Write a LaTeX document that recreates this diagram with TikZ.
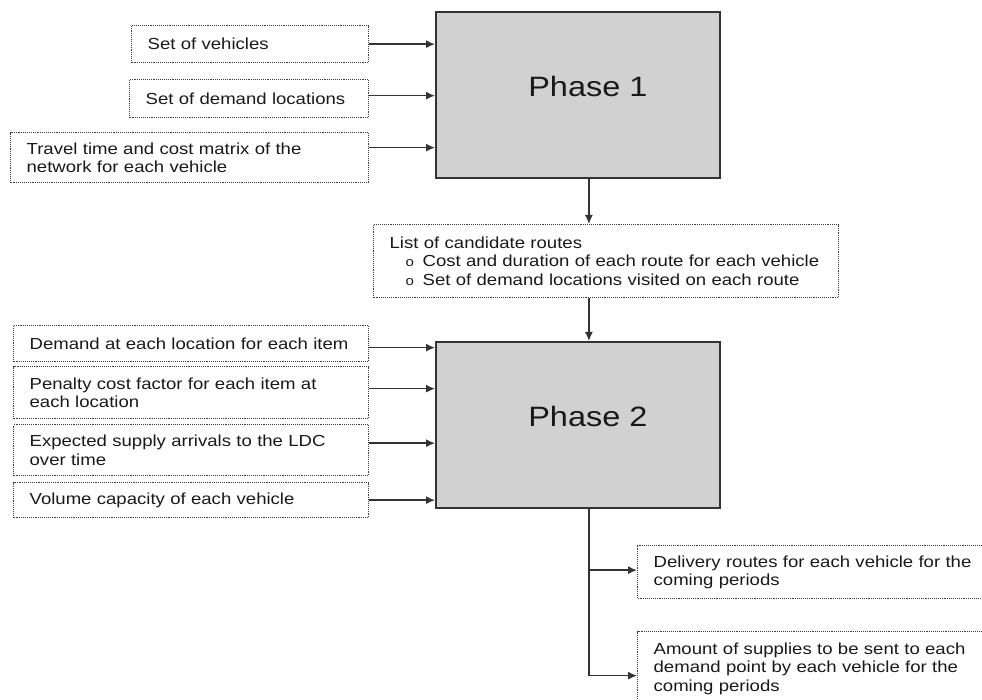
\documentclass[tikz,border=0pt]{standalone}
\usepackage{fontspec}
\setmainfont{Liberation Sans}[FakeStretch=1.16]
\usetikzlibrary{arrows.meta,positioning}
\tikzset{
  >={Latex[length=9pt,width=8pt]},
  flow/.style={font=\fontsize{16}{18.3}\selectfont, line width=1.3pt},
  databox/.style={
    rectangle, draw=black!75, dash pattern=on 1pt off 0.9pt, line width=1.3pt,
    anchor=north west, align=left, inner xsep=16pt, inner ysep=0pt, text=black!90
  },
  phase/.style={
    rectangle, draw=black!80, line width=1.8pt, fill=black!18,
    anchor=north west, minimum width=284pt, minimum height=166pt
  },
  phasetext/.style={font=\fontsize{28}{32}\selectfont, text=black!90},
  arrow/.style={->, draw=black!80, line width=1.4pt}
}
\newcommand{\routeitem}[1]{\hspace*{16pt}\makebox[17pt][l]{\fontsize{13}{13}\selectfont o}#1}

\begin{document}
\begin{tikzpicture}[flow, x=1pt, y=-1pt]
\useasboundingbox (0,0) rectangle (982,700);

% 1 : Phase 1 et ses entrées
\node[phase, label={[phasetext, xshift=10pt, yshift=8pt]center:Phase 1}] (ph1) at (435,11) {};
\node[databox, text width=205pt, minimum height=37pt] (veh) at (131,25) {Set of vehicles};
\node[databox, text width=207pt, minimum height=38pt] (dem) at (129,79) {Set of demand locations};
\node[databox, text width=326pt, minimum height=50pt] (travel) at (10,132) {Travel time and cost matrix of the\\network for each vehicle};
\draw[arrow] (veh.east) -- (veh.east -| ph1.west);
\draw[arrow] ([yshift=3pt]dem.east) -- ([yshift=3pt]dem.east -| ph1.west);
\draw[arrow] ([yshift=10pt]travel.east) -- ([yshift=10pt]travel.east -| ph1.west);

% 2 : Routes candidates
\node[databox, text width=433pt, minimum height=73pt] (cand) at (373,224) {List of candidate routes\\
\routeitem{Cost and duration of each route for each vehicle}\\
\routeitem{Set of demand locations visited on each route}};
\draw[arrow] ([xshift=11pt]ph1.south) -- ([xshift=11pt]ph1.south |- cand.north);

% 3 : Phase 2 et ses entrées
\node[phase, label={[phasetext, xshift=10pt, yshift=8pt]center:Phase 2}] (ph2) at (435,341) {};
\draw[arrow] ([xshift=11pt]ph2.north |- cand.south) -- ([xshift=11pt]ph2.north);
\node[databox, text width=323pt, minimum height=36pt] (dmd) at (13,325) {Demand at each location for each item};
\node[databox, text width=323pt, minimum height=52pt] (pen) at (13,366) {Penalty cost factor for each item at\\each location};
\node[databox, text width=323pt, minimum height=51pt] (sup) at (13,424) {Expected supply arrivals to the LDC\\over time};
\node[databox, text width=323pt, minimum height=35pt] (volcap) at (13,482) {Volume capacity of each vehicle};
\draw[arrow] ([yshift=-4pt]dmd.east) -- ([yshift=-4pt]dmd.east -| ph2.west);
\draw[arrow] ([yshift=4pt]pen.east) -- ([yshift=4pt]pen.east -| ph2.west);
\draw[arrow] ([yshift=7pt]sup.east) -- ([yshift=7pt]sup.east -| ph2.west);
\draw[arrow] (volcap.east) -- (volcap.east -| ph2.west);

% 4 : Sorties
\node[databox, text width=331pt, minimum height=53pt] (deliv) at (637,545) {Delivery routes for each vehicle for the\\coming periods};
\node[databox, text width=331pt, minimum height=74pt] (amount) at (637,631) {Amount of supplies to be sent to each\\demand point by each vehicle for the\\coming periods};
\coordinate (split) at ([xshift=11pt]ph2.south);
\draw[arrow] (split) |- ([yshift=2pt]deliv.west);
\draw[arrow] (split) |- ([yshift=-7pt]amount.west);

\end{tikzpicture}
\end{document}
